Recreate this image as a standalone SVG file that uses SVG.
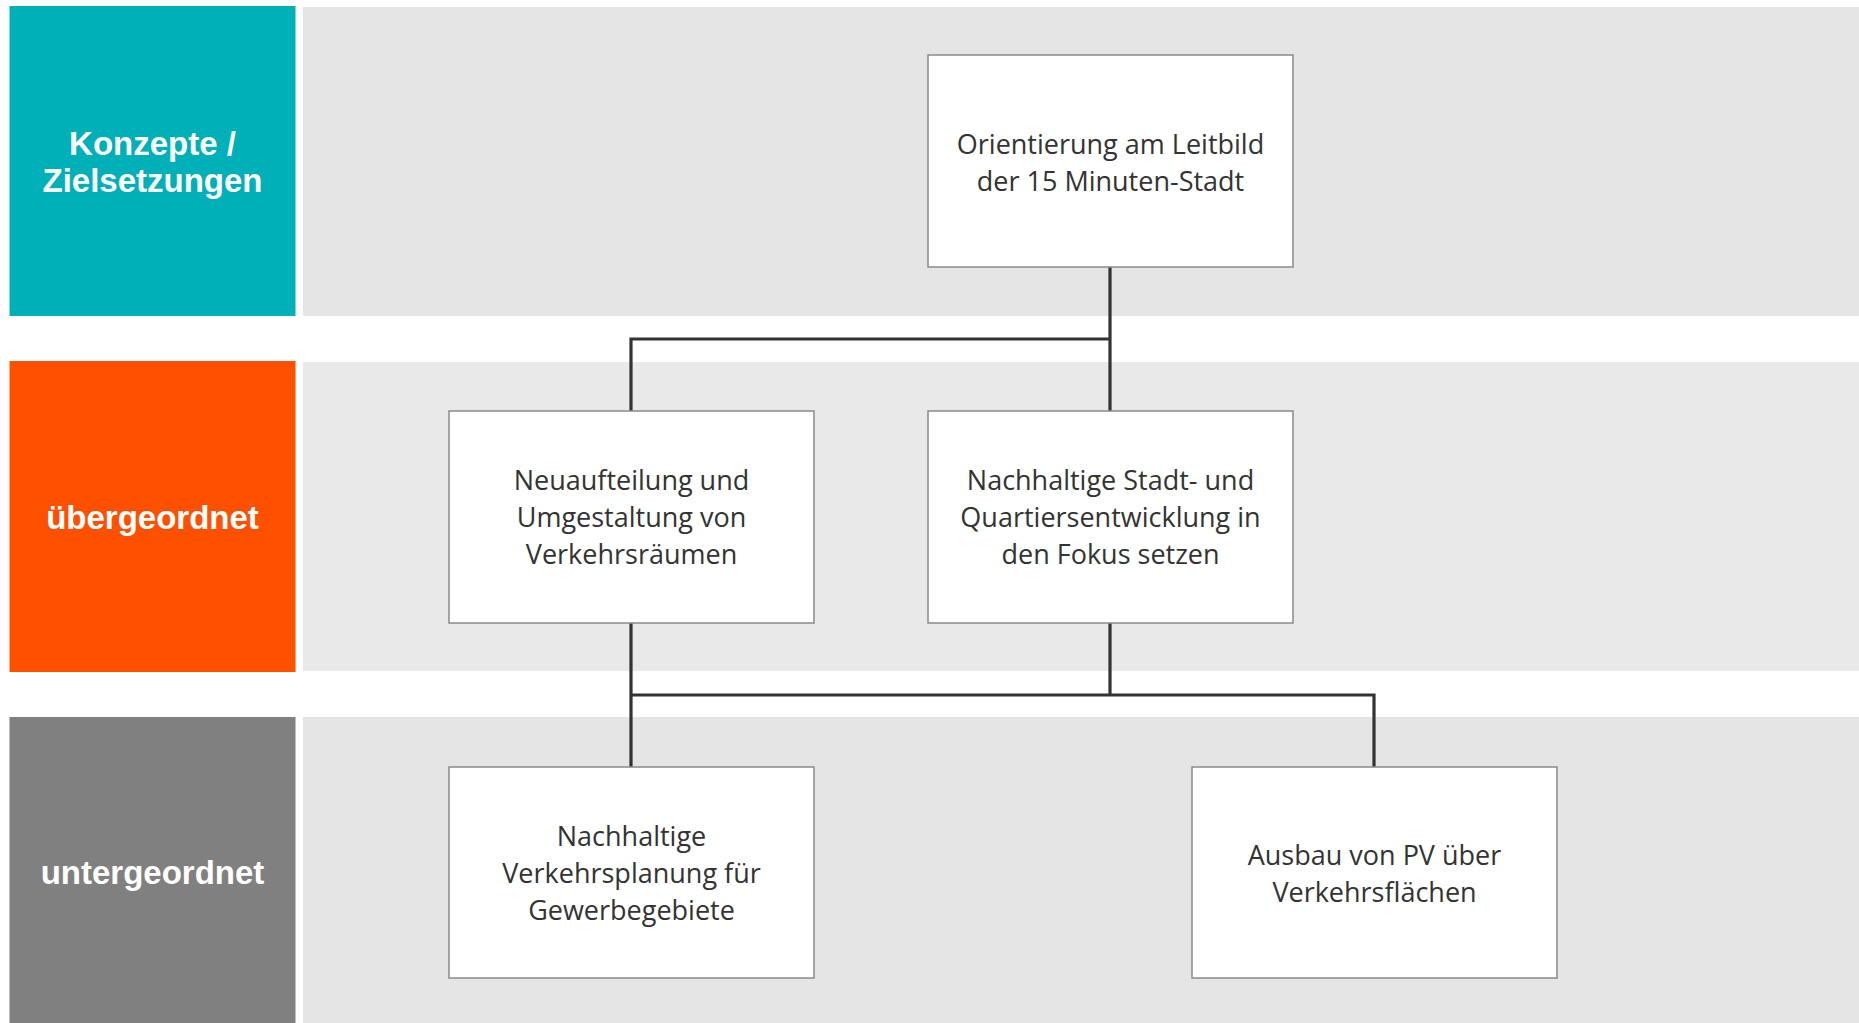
<svg xmlns="http://www.w3.org/2000/svg" width="1859" height="1023" viewBox="0 0 1859 1023">
<style>
.band{fill:#e5e5e5}
.band2{fill:#e9e9e9}
.lbl{font-family:"Liberation Sans",Arial,sans-serif;font-weight:bold;font-size:33px;fill:#fff;text-anchor:middle}
.box{fill:#fff;stroke:#8a8a8a;stroke-width:1.5}
.txt{font-family:"Open Sans","Noto Sans",sans-serif;font-size:27px;fill:#333;text-anchor:middle}
.conn{fill:none;stroke:#333;stroke-width:3.2}
</style>
<rect width="1859" height="1023" fill="#fff"/>
<rect class="band" x="303" y="7" width="1556" height="309"/>
<rect class="band2" x="303" y="362" width="1556" height="309"/>
<rect class="band" x="303" y="717" width="1556" height="306"/>
<g id="lane-konzepte">
<rect x="9.5" y="6" width="286" height="310" fill="#00b0b9"/>
<text class="lbl" x="152.5" y="155">Konzepte /</text>
<text class="lbl" x="152.5" y="192">Zielsetzungen</text>
</g>
<g id="lane-uebergeordnet">
<rect x="9.5" y="361" width="286" height="311" fill="#ff5000"/>
<text class="lbl" x="152.5" y="529">übergeordnet</text>
</g>
<g id="lane-untergeordnet">
<rect x="9.5" y="717" width="286" height="306" fill="#808080"/>
<text class="lbl" x="152.5" y="884">untergeordnet</text>
</g>
<g id="connectors">
<path class="conn" d="M1110 267 V411 M1110 339 H631 V411"/>
<path class="conn" d="M631 623 V767 M1110 623 V695 M631 695 H1374 V767"/>
</g>
<g id="n1">
<rect class="box" x="928" y="55" width="365" height="212"/>
<text class="txt" x="1110.5" y="154">Orientierung am Leitbild</text>
<text class="txt" x="1110.5" y="191">der 15 Minuten-Stadt</text>
</g>
<g id="n2">
<rect class="box" x="449" y="411" width="365" height="212"/>
<text class="txt" x="631.5" y="490">Neuaufteilung und</text>
<text class="txt" x="631.5" y="527">Umgestaltung von</text>
<text class="txt" x="631.5" y="564">Verkehrsräumen</text>
</g>
<g id="n3">
<rect class="box" x="928" y="411" width="365" height="212"/>
<text class="txt" x="1110.5" y="490">Nachhaltige Stadt- und</text>
<text class="txt" x="1110.5" y="527">Quartiersentwicklung in</text>
<text class="txt" x="1110.5" y="564">den Fokus setzen</text>
</g>
<g id="n4">
<rect class="box" x="449" y="767" width="365" height="211"/>
<text class="txt" x="631.5" y="846">Nachhaltige</text>
<text class="txt" x="631.5" y="883">Verkehrsplanung für</text>
<text class="txt" x="631.5" y="920">Gewerbegebiete</text>
</g>
<g id="n5">
<rect class="box" x="1192" y="767" width="365" height="211"/>
<text class="txt" x="1374.5" y="865">Ausbau von PV über</text>
<text class="txt" x="1374.5" y="902">Verkehrsflächen</text>
</g>
</svg>
